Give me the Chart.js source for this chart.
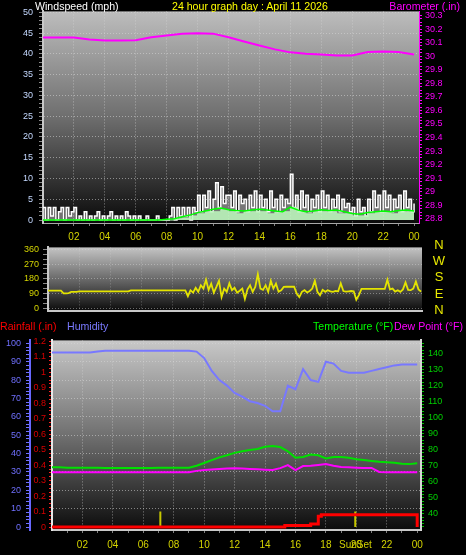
<!DOCTYPE html>
<html><head><meta charset="utf-8">
<script src="https://cdn.jsdelivr.net/npm/chart.js@4.4.1/dist/chart.umd.min.js"></script>
<style>
html,body{margin:0;padding:0;background:#000;width:466px;height:555px;overflow:hidden;font-family:"Liberation Sans",Arial,sans-serif;}
canvas{position:absolute;left:0;}
.t{position:absolute;white-space:nowrap;font-size:10.6px;line-height:12px;}
.d{position:absolute;font-size:13px;line-height:14px;color:#e8e800;width:20px;text-align:center;left:429px;}
</style></head><body>
<canvas id="c1" width="466" height="245" style="top:0;width:466px;height:245px"></canvas>
<canvas id="c2" width="466" height="82" style="top:238px;width:466px;height:82px"></canvas>
<canvas id="c3" width="466" height="225" style="top:330px;width:466px;height:225px"></canvas>

<div class="t" style="left:35px;top:0px;color:#ffffff">Windspeed (mph)</div>
<div class="t" style="left:172px;top:0px;color:#ffff00">24 hour graph day : April 11 2026</div>
<div class="t" style="right:6px;top:0px;color:#ff00ff">Barometer (.in)</div>
<div class="d" style="top:238px">N</div>
<div class="d" style="top:254px">W</div>
<div class="d" style="top:270px">S</div>
<div class="d" style="top:287px">E</div>
<div class="d" style="top:303px">N</div>
<div class="t" style="left:0px;top:320px;color:#ff0000">Rainfall (.in)</div>
<div class="t" style="left:67px;top:320px;color:#7a7aff">Humidity</div>
<div class="t" style="left:313px;top:320px;color:#00ff00">Temperature (°F)</div>
<div class="t" style="left:394px;top:320px;color:#ff00ff">Dew Point (°F)</div>
<div class="t" style="left:339px;top:539px;font-size:10px;color:#d0d000">SunSet</div>

<script>
// ---------- DATA ----------
// wind gust (mph), 10-minute samples 00:00 .. 24:00
const gustMph = [
 3,0,3,1,3,0, 2,3,0,3,1,2, 3,0,1,0,2,0, 1,0,1,2,0,1, 0,1,2,0,1,0, 1,0,2,1,0,1,
 0,1,0,0,1,0, 0,0,1,0,0,0, 0,1,3,0,3,1, 3,1,3,0,3,2, 6,2,6,3,7,2, 5,9,3,8,4,6,
 6,3,7,2,6,4, 5,2,6,3,7,2, 6,3,5,2,7,3, 5,2,6,3,5,4, 11,3,6,2,7,3, 6,2,5,3,6,2,
 7,3,6,2,5,3, 6,2,5,3,4,2, 3,1,5,2,3,1, 5,2,7,3,6,2, 7,3,6,2,5,3, 6,2,7,3,5,2, 4];
// wind speed (mph), 30-minute samples
const speedMph = [0,0,0,0,0,0,0,0,0,0,0,0,0,0,0,0,0,0.3,0.5,1,1.5,2,2,2.5,2,1.5,2,2,2,1.5,2,2,3,2,1.5,2,2,2,1.5,1.5,1,1,1.5,2,2,1.5,2,2,2];
// average wind speed (mph), 30-minute samples
const avgMph = [0,0,0,0,0,0,0,0,0,0,0,0,0,0,0,0,0.2,0.3,0.8,1.2,1.8,2.2,2.6,2.9,2.5,2.3,2.2,2.4,2.6,2.4,2.2,2.0,3.1,2.4,2.0,2.2,2.5,2.3,2.4,2.0,1.6,1.4,1.8,2.0,2.2,2.0,2.3,2.4,2.2];
// barometer (in), hourly
const baroIn = [30.138,30.138,30.137,30.122,30.116,30.115,30.118,30.14,30.153,30.165,30.168,30.166,30.14,30.108,30.078,30.05,30.028,30.018,30.012,30.004,30.005,30.03,30.035,30.03,30.013];
// wind direction (deg), 10-minute samples
const windDir = [
 107,107,107,107,107,107, 90,90,92, 100,100,100,103,
 103,103,103,103,103,103,103,103,103,103,103,103,103,103,103,103,103,103,103,
 109,109,109,109,109,109,109,109,109,109,109,109,109,109,109,109,109,109,109,109,109,109,
 73,110,95,125,100,140, 120,174,112,150,95,130, 168,68,120,100,152,110, 125,95,107,120,56,115,
 140,100,130,208,120,112, 140,100,168,120,150,101, 110,130,131,131,131,131, 90,68,100,110,96,105,
 120,168,100,79,112,100, 110,103,100,105,103,152, 105,101,103,105,103,52, 80,118,118,118,118,118,
 118,118,118,118,118,174, 115,120,101,110,100,115, 158,112,110,120,163,115, 101];
// humidity (%), 30-minute samples
const humidity = [95,95,95,95,95,95,95.5,96,96,96,96,96,96,96,96,96,96,96,96,95.5,92,85,80,77,73,71,68.5,67.5,66,63,63,77,75,86,80,79,90,89,85,84,84,84,85,86,87,88,88.5,88.5,88.5];
// temperature (F), 30-minute samples
const temperature = [69,69,68.8,68.8,68.7,68.7,68.7,68.6,68.6,68.6,68.6,68.6,68.6,68.6,68.7,68.7,68.7,68.8,68.8,70,71.7,73.5,75.2,76.5,78,79,79.8,80.4,81.8,82.2,81.6,79,75,75.4,77,76.5,74.5,75.4,75.4,75,74,73.5,73,72.5,72.2,71.8,71.2,71,71.5];
// dew point (F), 30-minute samples
const dewPoint = [66,66,66,66,66,66,66,66,66,66,66,66,66,66,66,66,66,66,66,66.8,67.3,67.6,68,68.2,68.5,68.3,68,67.8,67.5,67.3,68.5,70.4,67.3,69.8,70,70.5,71,70,69.2,69,68.8,68.6,68.6,66.1,66,66,66,66,66];
// rainfall (in), step changes
const rainHours = [0, 15.3, 17.0, 17.5, 17.7, 24.0];
const rainIn    = [0, 0.01, 0.02, 0.07, 0.08, 0];
// sunrise / sunset (hours)
const sunHours = [7.12, 19.93];
const sunBarTop = 0.1;

// tick labels
const hourLabels = ['02','04','06','08','10','12','14','16','18','20','22','00'];
const windTicks = [0,5,10,15,20,25,30,35,40,45,50];
const baroTicks = [28.8,28.9,29,29.1,29.2,29.3,29.4,29.5,29.6,29.7,29.8,29.9,30,30.1,30.2,30.3];
const dirTicks = [0,90,180,270,360];
const humTicks = [0,10,20,30,40,50,60,70,80,90,100];
const rainTicks = [0,0.1,0.2,0.3,0.4,0.5,0.6,0.7,0.8,0.9,1,1.1,1.2];
const tempTicks = [40,50,60,70,80,90,100,110,120,130,140];

// ---------- helpers ----------
const H10 = gustMph.map((_, i) => i / 6);
const H30 = speedMph.map((_, i) => i / 2);
const H60 = baroIn.map((_, i) => i);
const xy = (hs, vs) => vs.map((v, i) => ({x: hs[i], y: v}));
const FONT = "'Liberation Sans', Arial, sans-serif";
Chart.defaults.font.family = FONT;
const GRID = 'rgba(215,215,215,0.55)';
const hourTickVals = [];
for (let h = 1; h <= 24; h++) hourTickVals.push(h);
const hourLabel = v => (v % 2 === 0 ? hourLabels[v / 2 - 1] : '');
const withMinor = (major, step, lo, hi) => {
  const s = new Set(major.map(v => +v.toFixed(3)));
  for (let v = lo; v <= hi + 1e-9; v += step) s.add(+v.toFixed(3));
  return [...s].sort((a, b) => a - b).map(v => ({value: v}));
};
const isMajor = (arr, v) => arr.some(m => Math.abs(m - v) < 1e-6);

const bg = {
  id: 'bg',
  beforeDraw(chart, a, o) {
    const {ctx, chartArea: c} = chart;
    const g = ctx.createLinearGradient(0, c.top, 0, c.bottom);
    g.addColorStop(0, o.top); g.addColorStop(0.5, o.mid); g.addColorStop(1, o.bottom);
    ctx.save(); ctx.fillStyle = g;
    ctx.fillRect(c.left, c.top, c.right - c.left, c.bottom - c.top);
    ctx.restore();
  }
};

const baseOpts = {
  responsive: false, animation: false, devicePixelRatio: 1,
  plugins: {legend: {display: false}, tooltip: {enabled: false}},
  elements: {point: {radius: 0}, line: {tension: 0}}
};

// ---------- PANEL 1 : wind speed + barometer ----------
new Chart(document.getElementById('c1'), {
  type: 'line',
  data: {datasets: [
    {data: xy(H60, baroIn), yAxisID: 'yB', borderColor: '#ff00ff', borderWidth: 2},
    {data: xy(H30, avgMph), yAxisID: 'yW', borderColor: '#00ff00', borderWidth: 1.5},
    {data: xy(H30, speedMph), yAxisID: 'yW', borderColor: '#b8f0b8', borderWidth: 1, stepped: 'before',
     fill: 'origin', backgroundColor: 'rgba(190,250,190,0.85)'},
    {data: xy(H10, gustMph), yAxisID: 'yW', borderColor: '#ffffff', borderWidth: 1.5, stepped: 'before',
     fill: 'origin', backgroundColor: 'rgba(235,235,235,0.45)'}
  ]},
  options: {...baseOpts,
    layout: {padding: {top: 11, left: 0, right: 0, bottom: 0}},
    plugins: {...baseOpts.plugins, bg: {top: '#bdbdbd', mid: '#6e6e6e', bottom: '#0a0a0a'}},
    scales: {
      x: {type: 'linear', min: 0, max: 24.32,
        afterBuildTicks: s => { s.ticks = hourTickVals.map(v => ({value: v})); },
        ticks: {autoSkip: false, maxRotation: 0, color: '#d4d400', font: {size: 10}, padding: 5, callback: hourLabel},
        grid: {color: c => (c.tick && c.tick.value % 2 === 0 && c.tick.value < 24) ? GRID : 'transparent', tickColor: '#808080', tickLength: 3},
        border: {display: true, color: '#a8a8a8', width: 1, dash: [1, 2]},
        afterFit: s => { s.height = 22; }},
      yW: {type: 'linear', position: 'left', min: -0.7, max: 50.2,
        afterBuildTicks: s => { s.ticks = withMinor(windTicks, 1, 0, 50); },
        ticks: {autoSkip: false, color: '#c4d8ff', font: {size: 9}, padding: 6,
          callback: v => isMajor(windTicks, v) ? String(v) : ''},
        grid: {color: c => (c.tick && isMajor(windTicks, c.tick.value) && c.tick.value > 0) ? GRID : 'transparent', tickColor: '#8a8a8a', tickLength: 4},
        border: {display: true, color: '#c8c8c8', width: 2, dash: [1, 2]},
        afterFit: s => { s.width = 43; }},
      yB: {type: 'linear', position: 'right', min: 28.77, max: 30.33,
        afterBuildTicks: s => { s.ticks = withMinor(baroTicks, 0.025, 28.8, 30.3); },
        ticks: {autoSkip: false, color: '#ff00ff', font: {size: 9}, padding: 3,
          callback: v => isMajor(baroTicks, v) ? String(+v.toFixed(1)) : ''},
        grid: {drawOnChartArea: false, tickColor: '#ff00ff', tickLength: 3},
        border: {display: true, color: '#ff00ff', width: 1},
        afterFit: s => { s.width = 47; }}
    }
  },
  plugins: [bg]
});

// ---------- PANEL 2 : wind direction ----------
new Chart(document.getElementById('c2'), {
  type: 'line',
  data: {datasets: [
    {data: xy(H10, windDir), yAxisID: 'y', borderColor: '#e4e400', borderWidth: 1.8}
  ]},
  options: {...baseOpts,
    layout: {padding: {top: 6, left: 0, right: 44, bottom: 0}},
    plugins: {...baseOpts.plugins, bg: {top: '#c4c4c4', mid: '#6a6a6a', bottom: '#0c0c0c'}},
    scales: {
      x: {type: 'linear', min: 0, max: 24.06,
        afterBuildTicks: s => { s.ticks = hourTickVals.map(v => ({value: v})); },
        ticks: {display: false},
        grid: {color: c => (c.tick && c.tick.value % 2 === 0 && c.tick.value < 24) ? 'rgba(215,215,215,0.35)' : 'transparent', drawTicks: false},
        border: {display: true, color: '#c8c8c8', width: 2, dash: [1, 2]},
        afterFit: s => { s.height = 7; }},
      y: {type: 'linear', position: 'left', min: -15, max: 372,
        afterBuildTicks: s => { s.ticks = withMinor(dirTicks, 30, 0, 360); },
        ticks: {autoSkip: false, color: '#d4d400', font: {size: 9}, padding: 4,
          callback: v => isMajor(dirTicks, v) ? String(v) : ''},
        grid: {color: c => (c.tick && isMajor(dirTicks, c.tick.value)) ? 'rgba(215,215,215,0.45)' : 'transparent', tickColor: '#8a8a8a', tickLength: 5},
        border: {display: true, color: '#c8c8c8', width: 2, dash: [1, 2]},
        afterFit: s => { s.width = 48; }}
    }
  },
  plugins: [bg]
});

// ---------- PANEL 3 : rain, humidity, temperature, dew point ----------
const sunData = [];
sunHours.forEach((h, i) => {
  if (i > 0) sunData.push({x: h, y: null});
  sunData.push({x: h, y: 0}, {x: h, y: sunBarTop});
});
new Chart(document.getElementById('c3'), {
  type: 'line',
  data: {datasets: [
    {data: xy(rainHours, rainIn), yAxisID: 'yR', borderColor: '#ff0000', borderWidth: 3, stepped: 'before'},
    {data: xy(H30, humidity), yAxisID: 'yH', borderColor: '#7878ff', borderWidth: 2},
    {data: xy(H30, dewPoint), yAxisID: 'yT', borderColor: '#ff00ff', borderWidth: 2},
    {data: xy(H30, temperature), yAxisID: 'yT', borderColor: '#00e000', borderWidth: 2},
    {data: sunData, yAxisID: 'yR', borderColor: '#c8c800', borderWidth: 2, spanGaps: false}
  ]},
  options: {...baseOpts,
    layout: {padding: {top: 10, left: 0, right: 0, bottom: 0}},
    plugins: {...baseOpts.plugins, bg: {top: '#c8c8c8', mid: '#707070', bottom: '#0c0c0c'}},
    scales: {
      x: {type: 'linear', min: 0, max: 24.25,
        afterBuildTicks: s => { s.ticks = hourTickVals.map(v => ({value: v})); },
        ticks: {autoSkip: false, maxRotation: 0, color: '#d4d400', font: {size: 10}, padding: 6, callback: hourLabel},
        grid: {color: c => (c.tick && c.tick.value % 2 === 0 && c.tick.value < 24) ? GRID : 'transparent', tickColor: '#808080', tickLength: 3},
        border: {display: true, color: '#c8c8c8', width: 2, dash: [1, 2]},
        afterFit: s => { s.height = 25; }},
      yH: {type: 'linear', position: 'left', weight: 1, min: -1.6, max: 101.6,
        afterBuildTicks: s => { s.ticks = withMinor(humTicks, 2, 0, 100); },
        ticks: {autoSkip: false, color: '#7070ff', font: {size: 9}, padding: 5,
          callback: v => isMajor(humTicks, v) ? String(v) : ''},
        grid: {color: c => (c.tick && isMajor(humTicks, c.tick.value) && c.tick.value > 0) ? GRID : 'transparent', tickColor: '#7070ff', tickLength: 4},
        border: {display: true, color: '#6868ff', width: 2, dash: [1, 2]},
        afterFit: s => { s.width = 30; }},
      yR: {type: 'linear', position: 'left', weight: 0, min: -0.019, max: 1.206,
        afterBuildTicks: s => { s.ticks = withMinor(rainTicks, 0.025, 0, 1.2); },
        ticks: {autoSkip: false, color: '#d80000', font: {size: 9}, padding: 3,
          callback: v => isMajor(rainTicks, v) ? String(+v.toFixed(1)) : ''},
        grid: {drawOnChartArea: false, tickColor: '#ff2020', tickLength: 3},
        border: {display: true, color: '#e8e8e8', width: 2},
        afterFit: s => { s.width = 22; }},
      yT: {type: 'linear', position: 'right', min: 30, max: 148,
        afterBuildTicks: s => { s.ticks = withMinor(tempTicks, 2, 32, 146); },
        ticks: {autoSkip: false, color: '#00d000', font: {size: 9}, padding: 4,
          callback: v => isMajor(tempTicks, v) ? String(v) : ''},
        grid: {drawOnChartArea: false, tickColor: '#00c000', tickLength: 3},
        border: {display: true, color: '#d8d8d8', width: 2},
        afterFit: s => { s.width = 45; }}
    }
  },
  plugins: [bg]
});
</script>
</body></html>
